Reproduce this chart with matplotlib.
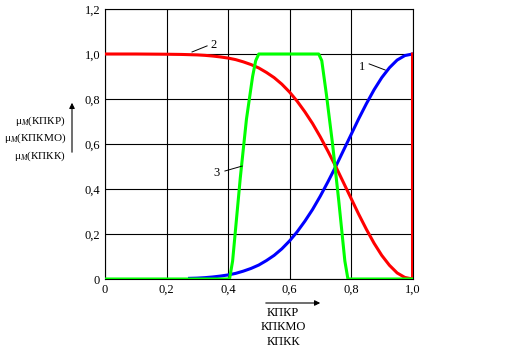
import matplotlib
matplotlib.use("Agg")
import matplotlib.pyplot as plt

plt.rcParams['font.family'] = ['Liberation Serif', 'DejaVu Serif']
plt.rcParams['mathtext.fontset'] = 'custom'
plt.rcParams['mathtext.rm'] = 'Liberation Serif'
plt.rcParams['mathtext.it'] = 'Liberation Serif:italic'

# ---- data ----
x_fine = [0.275, 0.3, 0.325, 0.35, 0.375, 0.4, 0.425, 0.45, 0.475, 0.5, 0.525, 0.55,
          0.575, 0.6, 0.625, 0.65, 0.675, 0.7, 0.725, 0.75, 0.775, 0.8, 0.825, 0.85,
          0.875, 0.9, 0.925, 0.95, 0.975, 1.0]
blue_y = [0.003, 0.004, 0.006, 0.009, 0.013, 0.018, 0.025, 0.035, 0.047, 0.062, 0.082, 0.105,
          0.134, 0.169, 0.210, 0.257, 0.309, 0.368, 0.432, 0.499, 0.570, 0.641, 0.712, 0.779,
          0.841, 0.895, 0.939, 0.973, 0.993, 1.0]
red_x = [0.0, 0.1, 0.2, 0.25] + x_fine + [1.0]
red_y = [1.0, 1.0, 0.999, 0.998,
         0.997, 0.996, 0.994, 0.991, 0.987, 0.982, 0.975, 0.965, 0.953, 0.938, 0.918, 0.895,
         0.866, 0.831, 0.790, 0.743, 0.691, 0.632, 0.568, 0.501, 0.430, 0.359, 0.288, 0.221,
         0.159, 0.105, 0.061, 0.027, 0.007, 0.0, 1.0]
green_x = [0.0, 0.405, 0.415, 0.44, 0.46, 0.48, 0.49, 0.5, 0.695, 0.705, 0.72, 0.74, 0.76, 0.78, 0.79, 1.0]
green_y = [0.0, 0.0, 0.08, 0.45, 0.71, 0.9, 0.97, 1.0, 1.0, 0.97, 0.82, 0.6, 0.35, 0.08, 0.0, 0.0]

x_ticks = [0.0, 0.2, 0.4, 0.6, 0.8, 1.0]
x_ticklabels = ['0', '0,2', '0,4', '0,6', '0,8', '1,0']
y_ticks = [0.0, 0.2, 0.4, 0.6, 0.8, 1.0, 1.2]
y_ticklabels = ['0', '0,2', '0,4', '0,6', '0,8', '1,0', '1,2']
y_label_lines = ['μ$_{\\mathit{M}}$(КПКР)', 'μ$_{\\mathit{M}}$(КПКМО)', 'μ$_{\\mathit{M}}$(КПКК)']
x_label_lines = ['КПКР', 'КПКМО', 'КПКК']

W, H = 509, 352
fig = plt.figure(figsize=(W / 100, H / 100), dpi=100)
ax = fig.add_axes([105 / W, 73 / H, 307.5 / W, 270 / H])

ax.plot(x_fine, blue_y, color='#0000ff', lw=2.2, zorder=3)
ax.plot(red_x, red_y, color='#ff0000', lw=2.2, zorder=4)
ax.plot(green_x, green_y, color='#00ff00', lw=2.2, zorder=5)

ax.set_xlim(0, 1)
ax.set_ylim(0, 1.2)
ax.set_xticks(x_ticks)
ax.set_xticklabels(x_ticklabels)
ax.set_yticks(y_ticks)
ax.set_yticklabels(y_ticklabels)
ax.tick_params(length=0, labelsize=9, pad=3.5)
ax.grid(True, color='black', lw=0.8, zorder=1)
ax.set_axisbelow(True)
for s in ax.spines.values():
    s.set_linewidth(0.8)
    s.set_color('black')

# curve labels with leader lines
for (tx, ty, lbl, x0, y0, x1, y1) in [
        (0.836, 0.942, '1', 0.859, 0.956, 0.911, 0.929),
        (0.354, 1.040, '2', 0.283, 1.009, 0.332, 1.036),
        (0.364, 0.471, '3', 0.390, 0.480, 0.446, 0.502)]:
    ax.text(tx, ty, lbl, fontsize=9, ha='center', va='center', zorder=6,
            bbox=dict(facecolor='white', edgecolor='none', pad=1.5))
    ax.plot([x0, x1], [y0, y1], color='black', lw=0.7, zorder=6)

# y label
for i, t in enumerate(y_label_lines):
    fig.text(66 / W, 1 - (121 + 17.5 * i) / H, t, fontsize=8, ha='right', va='center')
fig.add_artist(matplotlib.patches.FancyArrowPatch((72 / W, 1 - 155 / H), (72 / W, 1 - 100 / H),
               transform=fig.transFigure, arrowstyle='-|>', mutation_scale=8, lw=0.8, color='black'))

# x label
for i, t in enumerate(x_label_lines):
    fig.text(283 / W, 1 - (313 + 14.5 * i) / H, t, fontsize=9, ha='center', va='center')
fig.add_artist(matplotlib.patches.FancyArrowPatch((263 / W, 1 - 303 / H), (323 / W, 1 - 303 / H),
               transform=fig.transFigure, arrowstyle='-|>', mutation_scale=8, lw=0.8, color='black'))

fig.savefig('out.png', dpi=100)
